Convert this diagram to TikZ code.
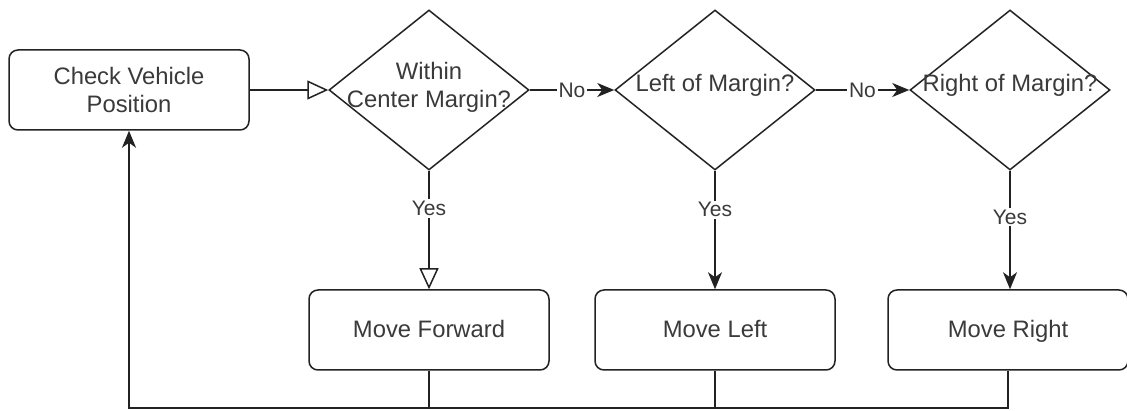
\documentclass[tikz,border=0pt]{standalone}
\usepackage{fontspec}
\setmainfont{Liberation Sans}
\usetikzlibrary{shapes.geometric,arrows.meta}
\definecolor{ink}{HTML}{222222}
\definecolor{txt}{HTML}{3A3A3A}
\tikzset{
  every node/.style={text=txt},
  procbox/.style={draw=ink, line width=1.5pt, rounded corners=9pt, fill=white,
    minimum width=240pt, minimum height=80pt, inner sep=0pt, align=center,
    font=\fontsize{23.8}{28}\selectfont},
  onelinebox/.style={procbox, text height=17pt, text depth=1pt},
  decision/.style={draw=ink, line width=1.5pt, diamond, fill=white,
    minimum width=200pt, minimum height=160pt, inner sep=0pt},
  dtext/.style={align=center, font=\fontsize{23.8}{28}\selectfont, inner sep=0pt},
  flow/.style={draw=ink, line width=1.5pt},
  openarrow/.style={flow, -{Triangle[open, length=21pt, width=19pt, fill=white]}},
  solidarrow/.style={flow, -{Stealth[length=17pt, width=14pt, inset=5pt]}},
  edgelabel/.style={fill=white, inner sep=2pt, font=\fontsize{21}{24}\selectfont}
}
\begin{document}
\begin{tikzpicture}[x=1pt, y=-1pt]
  \useasboundingbox (0,0) rectangle (1127,411);

  % top row: start box and the three decisions
  \node[procbox] (cv) at (129,90) {Check Vehicle\\Position};
  \node[decision] (d1) at (429,90) {};
  \node[decision] (d2) at (715,90) {};
  \node[decision] (d3) at (1010,90) {};
  \node[dtext] (t1) at (429,87) {Within\\Center Margin?};
  \node[dtext, text height=17pt, text depth=5pt] (t2) at (715,86) {Left of Margin?};
  \node[dtext, text height=17pt, text depth=5pt] (t3) at (1010,86) {Right of Margin?};

  % bottom row: actions
  \node[onelinebox] (mf) at (429,330) {Move Forward};
  \node[onelinebox] (ml) at (715,330) {Move Left};
  \node[onelinebox] (mr) at (1008,330) {Move Right};

  % main flow
  \draw[openarrow] (cv.east) -- (d1.west);
  \draw[solidarrow] (d1.east) -- node[edgelabel] {No} (d2.west);
  \draw[solidarrow] (d2.east) -- node[edgelabel] {No} (d3.west);

  \draw[openarrow] (d1.south) -- node[edgelabel, pos=0.32] {Yes} (mf.north);
  \draw[solidarrow] (d2.south) -- node[edgelabel, pos=0.33] {Yes} (ml.north);
  \draw[solidarrow] (d3.south) -- node[edgelabel, pos=0.39] {Yes} (d3.south |- mr.north);

  % return loop back to the start
  \coordinate (loop) at (129,408);
  \draw[solidarrow] (mr.south) |- (loop) -- (cv.south);
  \draw[flow] (mf.south) -- (mf.south |- loop);
  \draw[flow] (ml.south) -- (ml.south |- loop);
\end{tikzpicture}
\end{document}
